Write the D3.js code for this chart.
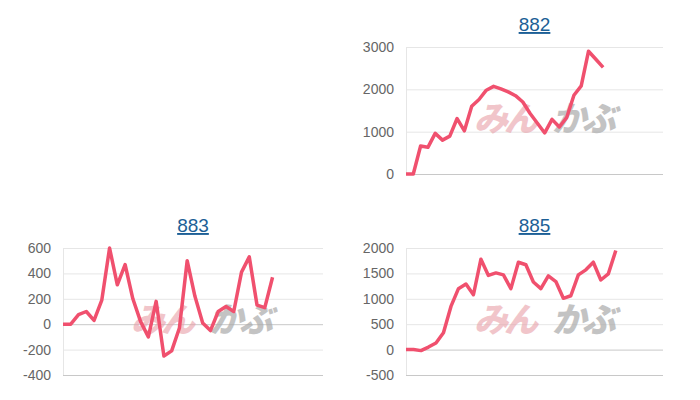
<!DOCTYPE html>
<html><head><meta charset="utf-8">
<script src="https://cdn.jsdelivr.net/npm/d3@7"></script>
<style>body{margin:0;background:#fff;font-family:"Open Sans",Arial,sans-serif}</style>
</head><body><svg id="c" width="700" height="400"></svg>
<script>
const titles = ["882", "883", "885"];
const v882 = [0,0,660,630,960,800,895,1310,1020,1600,1760,1980,2070,2010,1940,1850,1700,1430,1200,970,1290,1110,1330,1860,2080,2900,2710,2520];
const v883 = [0,0,75,100,30,190,600,310,470,200,20,-100,180,-250,-210,-30,500,220,10,-50,100,140,100,410,530,150,130,370];
const v885 = [0,0,-20,50,130,330,850,1200,1290,1080,1780,1460,1510,1470,1200,1720,1670,1330,1200,1450,1340,1010,1060,1470,1570,1720,1370,1490,1950];
const ticks882 = [0,1000,2000,3000];
const ticks883 = [-400,-200,0,200,400,600];
const ticks885 = [-500,0,500,1000,1500,2000];

const svg = d3.select("#c");
const charts = [
  {t:titles[0], data:v882, ticks:ticks882, dom:[0,3000], x0:406, x1:663, yTop:47, yBot:174, xMax:35.2, ty:31},
  {t:titles[1], data:v883, ticks:ticks883, dom:[-400,600], x0:63, x1:323, yTop:248, yBot:375, xMax:33.5, ty:232},
  {t:titles[2], data:v885, ticks:ticks885, dom:[-500,2000], x0:406, x1:663, yTop:248, yBot:375, xMax:34.3, ty:232}
];
charts.forEach(c=>{
  const g = svg.append("g");
  const x = d3.scaleLinear().domain([0,c.xMax]).range([c.x0,c.x1]);
  const y = d3.scaleLinear().domain(c.dom).range([c.yBot,c.yTop]);
  g.append("text").attr("x",(c.x0+c.x1)/2).attr("y",c.ty).attr("text-anchor","middle")
   .attr("font-size",19).attr("font-family","Arial, sans-serif").attr("fill","#1c5f96").attr("text-decoration","underline").text(c.t);
  const ax = d3.axisLeft(y).tickValues(c.ticks).tickFormat(d=>String(d)).tickSize(-(c.x1-c.x0)).tickPadding(12);
  const ag = g.append("g").attr("transform",`translate(${c.x0},0)`).call(ax);
  ag.select(".domain").attr("stroke","#e6e6e6");
  ag.selectAll(".tick line").attr("stroke","#e6e6e6");
  ag.selectAll(".tick").filter(d=>d===0||d===c.dom[0]).select("line").attr("stroke","#c8c8c8");
  ag.selectAll("text").attr("fill","#666").attr("font-size",14).attr("font-family","Arial, sans-serif");
  // watermark
  const wx = c.x0+68, wy = (c.yTop+c.yBot)/2+20;
  g.append("text").attr("x",wx).attr("y",wy).attr("font-size",34).attr("font-weight","900").attr("font-style","italic")
   .attr("font-family","Noto Sans CJK JP").attr("letter-spacing",-4)
   .attr("fill","#e8a0a8").attr("opacity",0.6).text("みん");
  g.append("text").attr("x",wx+78).attr("y",wy).attr("font-size",34).attr("font-weight","900").attr("font-style","italic")
   .attr("font-family","Noto Sans CJK JP").attr("letter-spacing",-4)
   .attr("fill","#aaa").attr("opacity",0.7).text("かぶ");
  g.append("path").datum(c.data).attr("fill","none").attr("stroke","#f0506e").attr("stroke-width",3.5).attr("stroke-linejoin","round")
   .attr("d",d3.line().x((d,i)=>x(i)).y(d=>y(d)));
});
</script></body></html>
